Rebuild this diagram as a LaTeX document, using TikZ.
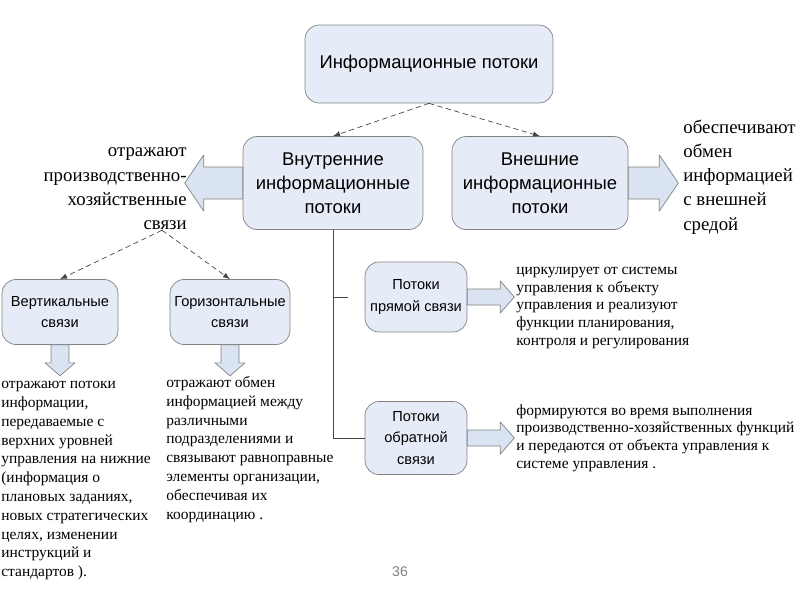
\documentclass[tikz,border=0pt]{standalone}
\usepackage{fontspec}
\setmainfont{Liberation Serif}
\setsansfont{Liberation Sans}
\usetikzlibrary{calc}

\definecolor{boxfill}{RGB}{230,236,247}
\definecolor{boxline}{RGB}{130,130,130}
\definecolor{arrfill}{RGB}{218,227,242}
\definecolor{linecol}{RGB}{70,70,70}

\tikzset{
  box/.style={draw=boxline, fill=boxfill, rounded corners=0.28cm, align=center, inner sep=2pt},
  bigbox/.style={box, font=\sffamily\fontsize{10.5}{13.6}\selectfont},
  smallbox/.style={box, font=\sffamily\fontsize{8.3}{12}\selectfont},
  note/.style={inner sep=0pt, align=left, font=\fontsize{8.8}{10.7}\selectfont},
  rnote/.style={note, font=\fontsize{8.8}{10.1}\selectfont},
  bignote/.style={inner sep=0pt, font=\fontsize{10.7}{13.8}\selectfont},
  dsh/.style={densely dashed, draw=linecol, -latex, thin},
  tree/.style={draw=linecol, thin},
  barrow/.style={draw=boxline, fill=arrfill, line join=round},
  pics/barr/.style n args={4}{code={
    \draw[barrow] (0,-#2) -- (#1-#4,-#2) -- (#1-#4,-#3) -- (#1,0)
      -- (#1-#4,#3) -- (#1-#4,#2) -- (0,#2) -- cycle;}}
}

\begin{document}
\begin{tikzpicture}[x=0.02cm, y=-0.02cm]
  \useasboundingbox (0,0) rectangle (800,600);

  %% блоки
  \node[bigbox, minimum width=4.96cm, minimum height=1.56cm] (potoki) at (429,64) {Информационные потоки};
  \node[bigbox, minimum width=3.6cm, minimum height=1.86cm] (vnutr) at (333,183) {Внутренние\\информационные\\потоки};
  \node[bigbox, minimum width=3.52cm, minimum height=1.86cm] (vnesh) at (540,183) {Внешние\\информационные\\потоки};
  \node[smallbox, minimum width=2.32cm, minimum height=1.3cm] (vert) at (60,312) {Вертикальные\\связи};
  \node[smallbox, minimum width=2.4cm, minimum height=1.3cm] (gor) at (230,312) {Горизонтальные\\связи};
  \node[smallbox, minimum width=2.04cm, minimum height=1.4cm] (pryam) at (416,297) {Потоки\\прямой связи};
  \node[smallbox, minimum width=2.04cm, minimum height=1.46cm] (obrat) at (416,438) {Потоки\\обратной\\связи};

  %% пояснения
  \node[bignote, anchor=east, align=right] (tvnutr) at (187,189) {отражают\\производственно-\\хозяйственные\\связи};
  \node[bignote, anchor=west, align=left] (tvnesh) at (683,177) {обеспечивают\\обмен\\информацией\\с внешней\\средой};
  \node[note, anchor=north west] (tvert) at (1,381) {отражают потоки\\информации,\\передаваемые с\\верхних уровней\\управления на нижние\\(информация о\\плановых заданиях,\\новых стратегических\\целях, изменении\\инструкций и\\стандартов ).};
  \node[note, anchor=north west] (tgor) at (166,376) {отражают обмен\\информацией между\\различными\\подразделениями и\\связывают равноправные\\элементы организации,\\обеспечивая их\\координацию .};
  \node[rnote, anchor=west] (tpryam) at (516,308) {циркулирует от системы\\управления к объекту\\управления и реализуют\\функции планирования,\\контроля и регулирования};
  \node[rnote, anchor=west] (tobrat) at (516,438) {формируются во время выполнения\\производственно-хозяйственных функций\\и передаются от объекта управления к\\системе управления .};
  \node[font=\sffamily\fontsize{8}{9}\selectfont, text=gray] (nomer) at (400,572) {36};

  %% стрелки
  \coordinate (svz) at ($(tvnutr.south east)+(-25,0)$);
  \draw[dsh] (potoki.south) -- (vnutr.north);
  \draw[dsh] (potoki.south) -- (vnesh.north);
  \draw[dsh] (svz) -- (vert.north);
  \draw[dsh] (svz) -- (gor.north);

  \coordinate (vetka) at ($(pryam.west)+(-17,0)$);
  \draw[tree] (vnutr.south) |- (obrat.west);
  \draw[tree] (vnutr.south |- vetka) -- (vetka);

  \pic[rotate=180] at (vnutr.west) {barr={58}{16}{28}{19}};
  \pic at (vnesh.east) {barr={50}{16}{28}{19}};
  \pic[rotate=-90] at (vert.south) {barr={31}{9}{15}{13}};
  \pic[rotate=-90] at (gor.south) {barr={31}{9}{15}{13}};
  \pic at (pryam.east) {barr={47}{8}{16}{14}};
  \pic at (obrat.east) {barr={47}{8}{16}{14}};
\end{tikzpicture}
\end{document}
